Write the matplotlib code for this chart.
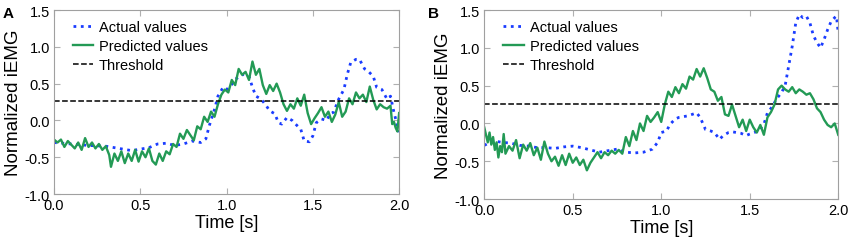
import numpy as np
import matplotlib.pyplot as plt

plt.rcParams['font.family'] = ['Liberation Sans', 'DejaVu Sans']

# panel A
a_act_t = [0, 0.1, 0.2, 0.3, 0.35, 0.4, 0.45, 0.5, 0.55, 0.6, 0.65, 0.7, 0.75, 0.8, 0.85, 0.88,
           0.9, 0.93, 0.95, 0.98, 1.0, 1.03, 1.05, 1.08, 1.1, 1.13, 1.15, 1.17, 1.2, 1.23, 1.25,
           1.28, 1.3, 1.32, 1.35, 1.38, 1.4, 1.43, 1.45, 1.48, 1.5, 1.52, 1.55, 1.58, 1.6, 1.62,
           1.65, 1.68, 1.7, 1.72, 1.75, 1.77, 1.8, 1.82, 1.85, 1.87, 1.9, 1.93, 1.95, 1.97, 2.0]
a_act = [-0.30, -0.32, -0.34, -0.35, -0.37, -0.39, -0.41, -0.39, -0.37, -0.32, -0.31, -0.34, -0.32,
         -0.28, -0.30, -0.25, -0.07, 0.15, 0.33, 0.45, 0.42, 0.49, 0.56, 0.60, 0.63, 0.60, 0.45,
         0.33, 0.29, 0.20, 0.13, 0.09, -0.03, -0.05, 0.04, 0.0, -0.05, -0.12, -0.28, -0.29, -0.21,
         -0.03, 0.02, 0.0, 0.09, 0.11, 0.29, 0.42, 0.63, 0.79, 0.83, 0.83, 0.70, 0.67, 0.60, 0.45,
         0.42, 0.29, 0.33, 0.11, -0.16]
a_pred_t = [0, 0.02, 0.04, 0.06, 0.08, 0.10, 0.12, 0.14, 0.16, 0.18, 0.20, 0.22, 0.24, 0.26, 0.28,
            0.30, 0.32, 0.33, 0.35, 0.37, 0.39, 0.41, 0.43, 0.45, 0.47, 0.49, 0.51, 0.53, 0.55,
            0.57, 0.59, 0.61, 0.63, 0.65, 0.67, 0.69, 0.71, 0.73, 0.75, 0.77, 0.79, 0.81, 0.83,
            0.85, 0.87, 0.89, 0.91, 0.93, 0.95, 0.97, 0.99, 1.01, 1.03, 1.05, 1.07, 1.09, 1.11,
            1.13, 1.15, 1.17, 1.19, 1.21, 1.23, 1.25, 1.27, 1.29, 1.31, 1.33, 1.35, 1.37, 1.39,
            1.41, 1.43, 1.45, 1.47, 1.49, 1.51, 1.53, 1.55, 1.57, 1.59, 1.61, 1.63, 1.65, 1.67,
            1.69, 1.71, 1.73, 1.75, 1.77, 1.79, 1.81, 1.83, 1.85, 1.87, 1.89, 1.91, 1.93, 1.95,
            1.96, 1.97, 1.98, 1.99, 2.0]
a_pred = [-0.26, -0.30, -0.26, -0.36, -0.28, -0.33, -0.38, -0.30, -0.40, -0.24, -0.36, -0.30,
          -0.38, -0.32, -0.40, -0.35, -0.47, -0.63, -0.45, -0.55, -0.42, -0.58, -0.45, -0.55,
          -0.40, -0.56, -0.42, -0.50, -0.38, -0.55, -0.60, -0.45, -0.55, -0.42, -0.46, -0.32,
          -0.36, -0.18, -0.25, -0.13, -0.20, -0.27, -0.08, -0.12, 0.05, -0.02, 0.12, 0.05, 0.22,
          0.35, 0.42, 0.38, 0.55, 0.48, 0.70, 0.62, 0.66, 0.55, 0.80, 0.62, 0.70, 0.48, 0.36,
          0.48, 0.40, 0.50, 0.38, 0.22, 0.13, 0.22, 0.16, 0.30, 0.20, 0.35, 0.10, -0.05, 0.03,
          0.10, 0.18, 0.05, 0.12, -0.02, 0.08, 0.25, 0.05, 0.12, 0.30, 0.22, 0.38, 0.30, 0.35,
          0.25, 0.46, 0.28, 0.15, 0.22, 0.18, 0.16, 0.20, -0.05, -0.02, -0.10, -0.15, 0.10]

# panel B
b_act_t = [0, 0.05, 0.1, 0.15, 0.2, 0.25, 0.3, 0.35, 0.4, 0.45, 0.5, 0.55, 0.6, 0.65, 0.7, 0.75,
           0.8, 0.85, 0.9, 0.95, 0.98, 1.0, 1.03, 1.05, 1.08, 1.1, 1.15, 1.2, 1.22, 1.25, 1.28,
           1.3, 1.33, 1.35, 1.38, 1.4, 1.45, 1.48, 1.5, 1.55, 1.58, 1.6, 1.63, 1.65, 1.68, 1.7,
           1.72, 1.74, 1.76, 1.78, 1.8, 1.82, 1.84, 1.86, 1.88, 1.9, 1.92, 1.94, 1.96, 1.98, 1.99,
           2.0]
b_act = [-0.29, -0.23, -0.25, -0.26, -0.29, -0.30, -0.32, -0.32, -0.33, -0.31, -0.30, -0.32,
         -0.35, -0.38, -0.36, -0.34, -0.38, -0.39, -0.38, -0.34, -0.25, -0.12, -0.10, -0.01,
         0.06, 0.08, 0.10, 0.14, 0.08, -0.08, -0.10, -0.12, -0.21, -0.16, -0.12, -0.11, -0.13,
         -0.16, -0.14, -0.10, -0.01, 0.14, 0.23, 0.32, 0.41, 0.50, 0.76, 1.02, 1.33, 1.44, 1.40,
         1.42, 1.33, 1.16, 1.07, 1.00, 1.11, 1.24, 1.35, 1.40, 1.42, 1.20]
b_pred_t = [0, 0.01, 0.02, 0.03, 0.04, 0.05, 0.06, 0.07, 0.08, 0.09, 0.10, 0.11, 0.12, 0.14, 0.16,
            0.18, 0.20, 0.22, 0.24, 0.26, 0.28, 0.30, 0.32, 0.34, 0.36, 0.38, 0.40, 0.42, 0.44,
            0.46, 0.48, 0.50, 0.52, 0.54, 0.56, 0.58, 0.60, 0.62, 0.64, 0.66, 0.68, 0.70, 0.72,
            0.74, 0.76, 0.78, 0.80, 0.82, 0.84, 0.86, 0.88, 0.90, 0.92, 0.94, 0.96, 0.98, 1.00,
            1.02, 1.04, 1.06, 1.08, 1.10, 1.12, 1.14, 1.16, 1.18, 1.20, 1.22, 1.24, 1.26, 1.28,
            1.30, 1.32, 1.34, 1.36, 1.38, 1.40, 1.42, 1.44, 1.46, 1.48, 1.50, 1.52, 1.54, 1.56,
            1.58, 1.60, 1.62, 1.64, 1.66, 1.68, 1.70, 1.72, 1.74, 1.76, 1.78, 1.80, 1.82, 1.84,
            1.86, 1.88, 1.90, 1.92, 1.94, 1.96, 1.98, 2.00]
b_pred = [-0.05, -0.15, -0.25, -0.12, -0.28, -0.18, -0.35, -0.25, -0.45, -0.30, -0.38, -0.14,
          -0.40, -0.30, -0.36, -0.22, -0.46, -0.28, -0.36, -0.26, -0.42, -0.32, -0.48, -0.24,
          -0.40, -0.50, -0.44, -0.56, -0.42, -0.55, -0.40, -0.52, -0.45, -0.55, -0.48, -0.62,
          -0.52, -0.45, -0.38, -0.46, -0.38, -0.42, -0.36, -0.40, -0.35, -0.40, -0.18, -0.30,
          -0.10, -0.22, 0.00, -0.10, 0.10, 0.02, 0.08, 0.15, 0.02, 0.25, 0.42, 0.35, 0.48, 0.40,
          0.52, 0.46, 0.62, 0.58, 0.72, 0.62, 0.73, 0.60, 0.45, 0.42, 0.30, 0.35, 0.12, 0.10,
          0.25, 0.10, -0.05, 0.05, -0.10, 0.05, -0.05, -0.12, -0.02, -0.15, 0.08, 0.15, 0.25,
          0.45, 0.50, 0.45, 0.42, 0.48, 0.40, 0.45, 0.42, 0.38, 0.40, 0.32, 0.20, 0.15, 0.05,
          -0.02, -0.05, 0.00, -0.15]

threshold = 0.26
yticks = [-1.0, -0.5, 0.0, 0.5, 1.0, 1.5]
xticks = [0.0, 0.5, 1.0, 1.5, 2.0]

blue = '#1a3cff'
green = '#239a55'

fig = plt.figure(figsize=(8.51, 2.51), dpi=100)
axA = fig.add_axes([0.0635, 0.223, 0.4055, 0.733])
axB = fig.add_axes([0.569, 0.203, 0.416, 0.753])

panels = [(axA, 'A', a_act_t, a_act, a_pred_t, a_pred),
          (axB, 'B', b_act_t, b_act, b_pred_t, b_pred)]

for ax, lab, at, av, pt, pv in panels:
    ax.plot(at, av, ':', color=blue, lw=2, label='Actual values')
    ax.plot(pt, pv, '-', color=green, lw=1.7, label='Predicted values')
    ax.axhline(threshold, color='black', ls='--', lw=1.1, label='Threshold')
    ax.set_xlim(0, 2)
    ax.set_ylim(-1, 1.5)
    ax.set_xticks(xticks)
    ax.set_yticks(yticks)
    ax.set_xticklabels(['%.1f' % v for v in xticks])
    ax.set_yticklabels(['%.1f' % v for v in yticks])
    ax.tick_params(direction='in', top=True, right=True, color='#b0b0b0', length=4,
                   labelsize=10.5, pad=3)
    for s in ax.spines.values():
        s.set_color('#a0a0a0')
    ax.set_xlabel('Time [s]', fontsize=13, labelpad=1)
    ax.set_ylabel('Normalized iEMG', fontsize=13.5, labelpad=2)
    ax.legend(loc='upper left', bbox_to_anchor=(0.025, 1.0), frameon=False,
              fontsize=10.5, handlelength=1.4, handletextpad=0.4,
              borderaxespad=0.3, labelspacing=0.35)

fig.text(0.003, 0.93, 'A', fontsize=11, fontweight='bold')
fig.text(0.503, 0.93, 'B', fontsize=11, fontweight='bold')

fig.savefig('out.png', dpi=100)
